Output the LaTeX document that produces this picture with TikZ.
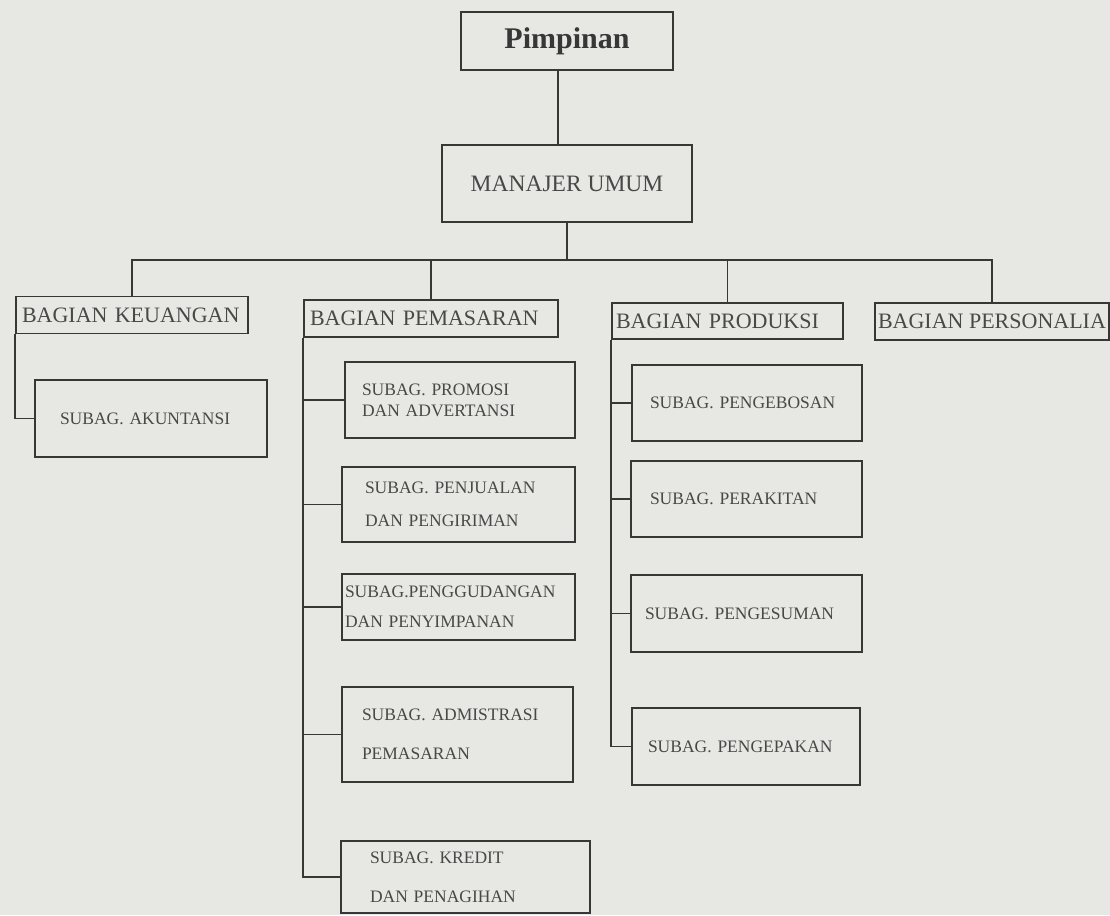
\documentclass[tikz,border=0pt]{standalone}
\usepackage{fontspec}
\setmainfont{Liberation Serif}
\definecolor{scanbg}{RGB}{231,231,228}
\definecolor{ink}{RGB}{55,55,55}
\definecolor{print}{RGB}{72,72,72}
\newcommand\bagfont{\fontsize{22}{26}\selectfont}
\newcommand\subfont{\fontsize{17.5}{21}\selectfont}
\begin{document}
\begin{tikzpicture}[x=1pt,y=-1pt,line width=1.7pt,color=ink,
	box/.style={draw,rectangle,inner sep=0pt,text=print},
	bag/.style={box,font=\bagfont,align=left,minimum height=37pt},
	sub/.style={box,font=\subfont,align=left}]
	\useasboundingbox (0,0) rectangle (1110,915);
	\fill[scanbg] (0,0) rectangle (1110,915);

	% top
	\node[box,minimum width=212pt,minimum height=58pt,text=ink,
		font=\fontsize{30}{36}\selectfont\bfseries] (pim) at (567,41) {Pimpinan};
	\node[box,minimum width=250pt,minimum height=77pt,
		font=\fontsize{23.5}{28}\selectfont] (mu) at (567,183.5) {MANAJER UMUM};

	% bagian
	\node[bag,inner xsep=6pt,text width=220pt] (keu) at (132,315) {BAGIAN KEUANGAN};
	\node[bag,inner xsep=6pt,text width=242pt] (pem) at (431,318.5) {BAGIAN PEMASARAN};
	\node[bag,inner xsep=4pt,text width=223pt,minimum height=36pt] (prod) at (727.5,321) {BAGIAN PRODUKSI};
	\node[bag,inner xsep=3pt] (pers) at (992,321.5) {BAGIAN PERSONALIA};

	% subbagian
	\node[sub,inner xsep=25pt,text width=182pt,minimum height=77pt] (aku) at (151,418.5) {SUBAG. AKUNTANSI};
	\node[sub,inner xsep=17pt,text width=196pt,minimum height=76pt] (pro) at (460,400) {SUBAG. PROMOSI\\DAN ADVERTANSI};
	\node[sub,inner xsep=23pt,text width=187pt,minimum height=75pt] (pen) at (458.5,504.5) {SUBAG. PENJUALAN\\[12pt]DAN PENGIRIMAN};
	\node[sub,inner xsep=3pt,text width=227pt,minimum height=66pt] (gud) at (458.5,607) {SUBAG.PENGGUDANGAN\\[9pt]DAN PENYIMPANAN};
	\node[sub,inner xsep=20pt,text width=191pt,minimum height=95pt] (adm) at (457.5,734.5) {SUBAG. ADMISTRASI\\[18pt]PEMASARAN};
	\node[sub,inner xsep=29pt,text width=191pt,minimum height=72pt] (kre) at (465.5,877) {SUBAG. KREDIT\\[18pt]DAN PENAGIHAN};
	\node[sub,inner xsep=18pt,text width=194pt,minimum height=76pt] (geb) at (747,403) {SUBAG. PENGEBOSAN};
	\node[sub,inner xsep=19pt,text width=193pt,minimum height=76pt] (rak) at (746.5,499) {SUBAG. PERAKITAN};
	\node[sub,inner xsep=14pt,text width=203pt,minimum height=77pt] (ges) at (746.5,613.5) {SUBAG. PENGESUMAN};
	\node[sub,inner xsep=16pt,text width=196pt,minimum height=77pt] (pak) at (746,746.5) {SUBAG. PENGEPAKAN};

	% lines
	\coordinate (bus) at (0,260);
	\draw ([xshift=-9pt]pim.south) -- ([xshift=-9pt]mu.north);
	\draw (mu.south) -- (mu.south |- bus);
	\draw (keu.north) -- (keu.north |- bus) -- (pers.north |- bus) -- (pers.north);
	\draw (pem.north) -- (pem.north |- bus);
	\draw (prod.north) -- (prod.north |- bus);
	\draw (keu.south west) |- (aku.west);
	\draw (pem.south west) |- (kre.west);
	\foreach \s in {pro,pen,gud,adm}
		\draw (pem.south west |- \s.west) -- (\s.west);
	\draw (prod.south west) |- (pak.west);
	\foreach \s in {geb,rak,ges}
		\draw (prod.south west |- \s.west) -- (\s.west);
\end{tikzpicture}
\end{document}
